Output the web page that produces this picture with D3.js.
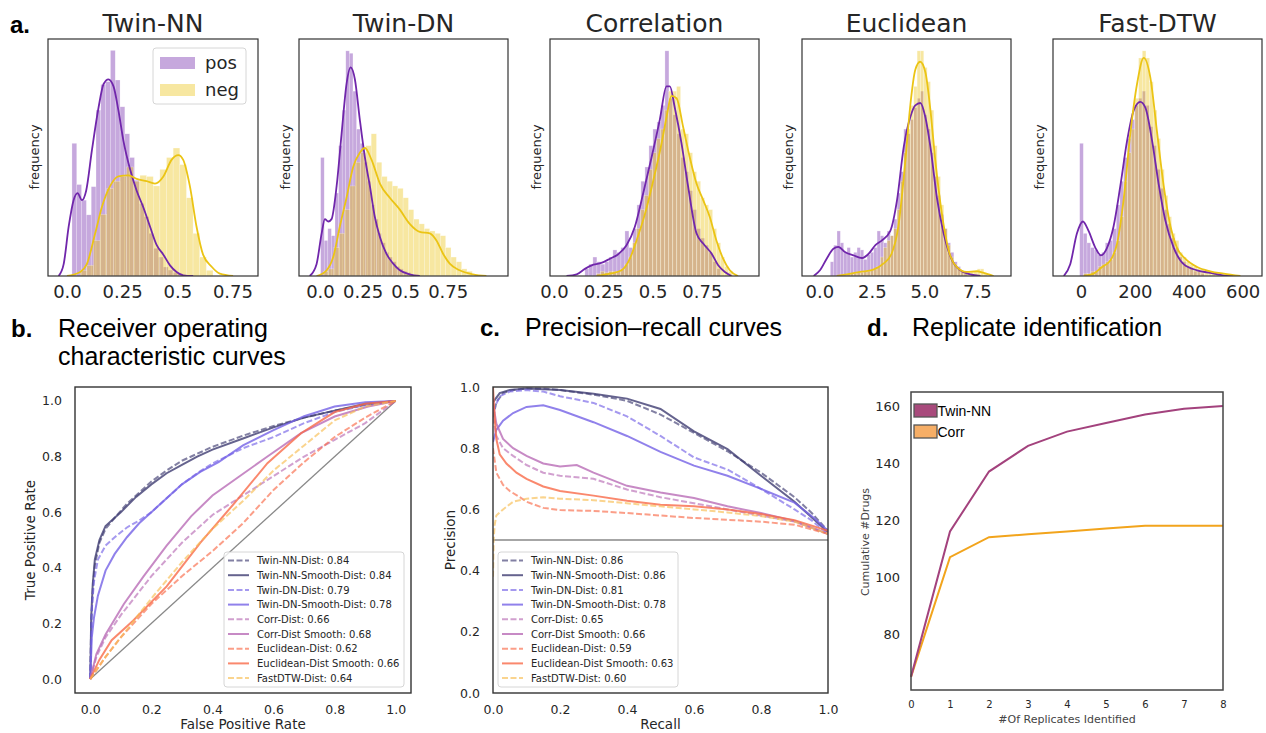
<!DOCTYPE html>
<html>
<head>
<meta charset="utf-8">
<script src="https://cdn.jsdelivr.net/npm/d3@7"></script>
<style>
body { margin: 0; background: #fff; }
text { font-family: "DejaVu Sans", sans-serif; fill: #262626; }
.sec { font-family: "Liberation Sans", Arial, sans-serif; fill: #000; }
</style>
</head>
<body>
<div id="fig"></div>
<script>
// ---- a. distance distributions (heights = relative frequency, % of axis) ----
const histTitles = ["Twin-NN", "Twin-DN", "Correlation", "Euclidean", "Fast-DTW"];
const histTicks = [[0, 0.25, 0.5, 0.75], [0, 0.25, 0.5, 0.75], [0, 0.25, 0.5, 0.75], [0, 2.5, 5, 7.5], [0, 200, 400, 600]];
const histTickLabels = [["0.0", "0.25", "0.5", "0.75"], ["0.0", "0.25", "0.5", "0.75"], ["0.0", "0.25", "0.5", "0.75"], ["0.0", "2.5", "5.0", "7.5"], ["0", "200", "400", "600"]];
// [pos first bin, pos bin width, neg first bin, neg bin width]
const histBins = [[0.0226, 0.0218, 0.06, 0.0301], [0.004, 0.0211, 0.0195, 0.03125], [0.157, 0.0203, 0.216, 0.0203], [0.524, 0.159, 1.317, 0.159], [-5, 13.6, 9.9, 13.6]];

const twinNNPosHist = [56, 38.6, 32, 25.8, 37.7, 70, 80.8, 82, 95.2, 82.7, 71.4, 60, 50, 40.4, 30.6, 25, 18, 11.7, 8, 3.8, 2.5, 1.5, 1];
const twinNNNegHist = [2.4, 4.5, 15, 26, 37, 40, 42, 46, 40, 42.5, 42, 38, 45, 50, 54, 47, 33, 18, 8, 2.4];
const twinDNPosHist = [50, 15, 20, 17, 35, 55, 70, 95, 94, 78, 62, 56, 48, 40, 30, 24, 18, 14, 10, 8, 6, 4, 3, 2, 1.5];
const twinDNNegHist = [2, 3, 12, 18, 28, 38, 48, 52, 55, 60, 48, 42, 40, 38, 37, 33, 28, 24, 22, 20, 19, 18, 17, 12, 8, 6, 3, 2];
const corrPosHist = [3, 5, 8, 6, 5, 6, 8, 11, 10, 12, 19, 12, 20, 30, 40, 46, 55, 62, 65, 72, 95, 75, 68, 60, 50, 44, 36, 28, 20, 16, 13, 10, 6, 3];
const corrNegHist = [1, 2, 1.5, 2, 2, 2, 3, 5, 8, 14, 20, 28, 34, 45, 52, 58, 62, 70, 78, 78, 80, 62, 60, 52, 44, 40, 33, 30, 28, 20, 14, 8, 4, 2];
const euclPosHist = [6, 13, 19, 14, 10, 12, 8, 10, 12, 11, 7, 9, 10, 12, 19, 17, 14, 19, 17, 24, 35, 44, 62, 60, 66, 71, 75, 78, 68, 62, 52, 42, 34, 26, 20, 14, 10, 6, 4, 2, 1];
const euclNegHist = [1, 1, 1, 1.5, 1.5, 2, 2, 2.5, 3, 4, 8, 12, 15, 17, 20, 28, 40, 52, 62, 72, 80, 95, 95, 88, 82, 70, 55, 42, 30, 20, 13, 8, 5, 3, 2, 2, 2, 2, 2, 3, 3, 1];
const dtwPosHist = [56, 18, 14, 12, 11, 9, 10, 14, 15, 20, 30, 40, 50, 58, 66, 72, 75, 78, 72, 63, 55, 45, 37, 28, 22, 16, 12, 8, 6, 4, 3, 2, 2, 1];
const dtwNegHist = [1, 1, 2, 2, 4, 5, 6, 7, 10, 15, 25, 40, 52, 62, 75, 92, 95, 92, 82, 70, 58, 45, 34, 25, 18, 15, 10, 8, 6, 5, 4, 3, 3, 2, 2, 1, 1];

const twinNNPosKde = [[-0.038, 0], [-0.015, 5], [0.008, 21], [0.03, 32], [0.048, 35], [0.068, 32], [0.087, 36], [0.113, 53], [0.143, 71], [0.166, 81], [0.188, 83], [0.211, 80], [0.233, 70], [0.256, 57], [0.286, 45], [0.316, 36], [0.346, 29], [0.376, 21], [0.407, 13], [0.437, 9], [0.467, 4.5], [0.497, 1.7], [0.527, 0.3], [0.572, 0]];
const twinNNNegKde = [[0, 0], [0.06, 1.7], [0.09, 5], [0.128, 18], [0.158, 29], [0.196, 38], [0.233, 42], [0.279, 42.5], [0.316, 41], [0.361, 40], [0.399, 39], [0.437, 42], [0.474, 49], [0.505, 51], [0.527, 49], [0.557, 38], [0.587, 21], [0.617, 9], [0.655, 4], [0.693, 1], [0.753, 0]];
const twinDNPosKde = [[-0.06, 0], [-0.02, 5], [0.01, 18], [0.029, 24], [0.049, 23], [0.068, 24], [0.098, 38], [0.127, 60], [0.156, 81], [0.18, 88], [0.205, 83], [0.234, 66], [0.264, 50], [0.293, 38], [0.322, 25], [0.352, 16.5], [0.39, 9.4], [0.43, 5.2], [0.469, 2.4], [0.527, 0.7], [0.586, 0]];
const twinDNNegKde = [[-0.02, 0], [0.039, 2.4], [0.078, 8], [0.117, 21], [0.156, 33], [0.195, 46], [0.234, 52], [0.264, 54], [0.303, 49], [0.352, 39], [0.41, 33], [0.469, 28], [0.527, 22], [0.586, 18.6], [0.645, 18], [0.684, 15], [0.723, 9.4], [0.762, 5.2], [0.82, 2.4], [0.898, 0.7], [0.977, 0]];
const corrPosKde = [[0.064, 0], [0.115, 0.7], [0.157, 3], [0.2, 4.8], [0.24, 5.5], [0.284, 7.3], [0.326, 9.2], [0.368, 13], [0.41, 20.7], [0.453, 35], [0.495, 50], [0.537, 66], [0.571, 80], [0.588, 80], [0.613, 71], [0.647, 56], [0.68, 38], [0.723, 18], [0.757, 13.7], [0.8, 9.4], [0.833, 4.5], [0.867, 1.7], [0.9, 0]];
const corrNegKde = [[0.216, 0], [0.284, 1], [0.343, 2.4], [0.385, 7.3], [0.419, 15], [0.461, 26], [0.503, 40], [0.546, 56], [0.571, 67], [0.596, 76], [0.622, 75], [0.655, 63], [0.689, 50], [0.723, 39], [0.757, 32], [0.79, 25], [0.824, 15], [0.858, 7.3], [0.892, 2.4], [0.934, 0]];
const euclPosKde = [[-0.27, 0], [0.03, 2.4], [0.35, 7.3], [0.67, 11.5], [0.9, 12.3], [1.24, 10], [1.63, 8.7], [2.03, 7.6], [2.35, 9.4], [2.67, 13], [2.98, 15], [3.38, 19], [3.7, 32], [4.02, 54.5], [4.33, 67], [4.57, 72], [4.81, 73], [5.05, 67], [5.29, 54.5], [5.6, 33], [5.92, 18], [6.32, 6.6], [6.71, 2.4], [7.19, 0.7], [7.67, 0]];
const euclNegKde = [[0.83, 0], [1.3, 0.7], [1.94, 1.7], [2.57, 2.7], [3.05, 5.2], [3.44, 9.4], [3.76, 20.7], [4.1, 49], [4.32, 71], [4.57, 87], [4.8, 90.4], [5.05, 86], [5.29, 70], [5.52, 49], [5.84, 26], [6.16, 10.8], [6.54, 3.8], [7.0, 1.7], [7.5, 2], [7.83, 1.3], [8.3, 0]];
const dtwPosKde = [[-64, 0], [-40, 5], [-15, 18], [7, 23], [28, 19], [53, 12], [74, 8.7], [97, 12], [121, 21], [146, 38], [171, 57], [196, 70], [220, 73.5], [239, 71], [264, 57], [288, 39], [313, 23.5], [344, 12], [381, 5], [431, 2.4], [480, 1.3], [530, 0.3], [579, 0]];
const dtwNegKde = [[10, 0], [47, 1], [78, 3.8], [109, 6.6], [134, 13.7], [158, 32], [183, 60], [208, 81], [233, 92], [257, 84], [282, 61], [307, 38], [332, 21], [356, 12], [387, 7.3], [431, 3.8], [480, 2], [530, 1], [592, 0]];

// ---- b. ROC curves [fpr, tpr] ----
const rocTwinNNDist = [[0, 0], [0.003, 0.2], [0.008, 0.32], [0.015, 0.41], [0.03, 0.49], [0.05, 0.54], [0.08, 0.58], [0.12, 0.63], [0.16, 0.67], [0.2, 0.71], [0.25, 0.75], [0.3, 0.785], [0.35, 0.81], [0.4, 0.835], [0.5, 0.875], [0.6, 0.91], [0.7, 0.94], [0.8, 0.965], [0.9, 0.985], [1, 1]];
const rocTwinNNSmooth = [[0, 0], [0.003, 0.22], [0.008, 0.34], [0.015, 0.43], [0.03, 0.5], [0.05, 0.55], [0.08, 0.58], [0.1, 0.6], [0.15, 0.655], [0.2, 0.7], [0.25, 0.74], [0.3, 0.77], [0.35, 0.8], [0.4, 0.825], [0.5, 0.865], [0.6, 0.905], [0.7, 0.94], [0.8, 0.965], [0.9, 0.99], [1, 1]];
const rocTwinDNDist = [[0, 0], [0.005, 0.25], [0.012, 0.35], [0.025, 0.43], [0.05, 0.48], [0.08, 0.51], [0.12, 0.545], [0.16, 0.57], [0.2, 0.6], [0.25, 0.65], [0.3, 0.7], [0.35, 0.74], [0.4, 0.775], [0.5, 0.83], [0.6, 0.87], [0.7, 0.92], [0.8, 0.96], [0.9, 0.985], [1, 1]];
const rocTwinDNSmooth = [[0, 0], [0.005, 0.15], [0.012, 0.22], [0.025, 0.3], [0.05, 0.39], [0.08, 0.45], [0.12, 0.51], [0.16, 0.56], [0.2, 0.6], [0.25, 0.65], [0.3, 0.7], [0.36, 0.745], [0.42, 0.78], [0.5, 0.84], [0.6, 0.895], [0.7, 0.945], [0.8, 0.98], [0.9, 0.995], [1, 1]];
const rocCorrDist = [[0, 0], [0.02, 0.08], [0.05, 0.15], [0.1, 0.23], [0.15, 0.3], [0.2, 0.37], [0.25, 0.43], [0.3, 0.49], [0.35, 0.54], [0.4, 0.59], [0.5, 0.66], [0.6, 0.73], [0.7, 0.8], [0.8, 0.86], [0.9, 0.92], [0.95, 0.96], [1, 1]];
const rocCorrSmooth = [[0, 0], [0.02, 0.09], [0.05, 0.16], [0.11, 0.27], [0.175, 0.37], [0.25, 0.48], [0.33, 0.585], [0.4, 0.66], [0.49, 0.73], [0.58, 0.8], [0.69, 0.884], [0.8, 0.944], [0.91, 0.98], [1, 1]];
const rocEuclDist = [[0, 0], [0.05, 0.08], [0.1, 0.15], [0.2, 0.27], [0.3, 0.37], [0.4, 0.46], [0.5, 0.56], [0.6, 0.68], [0.7, 0.78], [0.8, 0.87], [0.9, 0.94], [1, 1]];
const rocEuclSmooth = [[0, 0], [0.03, 0.07], [0.07, 0.14], [0.14, 0.21], [0.25, 0.333], [0.36, 0.49], [0.47, 0.63], [0.58, 0.776], [0.69, 0.884], [0.8, 0.96], [0.9, 0.99], [1, 1]];
const rocDtwDist = [[0, 0], [0.05, 0.08], [0.1, 0.15], [0.2, 0.29], [0.3, 0.42], [0.4, 0.54], [0.5, 0.64], [0.6, 0.75], [0.7, 0.84], [0.8, 0.93], [0.9, 0.98], [1, 1]];
const rocLabels = ["Twin-NN-Dist: 0.84", "Twin-NN-Smooth-Dist: 0.84", "Twin-DN-Dist: 0.79", "Twin-DN-Smooth-Dist: 0.78", "Corr-Dist: 0.66", "Corr-Dist Smooth: 0.68", "Euclidean-Dist: 0.62", "Euclidean-Dist Smooth: 0.66", "FastDTW-Dist: 0.64"];

// ---- c. precision-recall curves [recall, precision] ----
const prTwinNNDist = [[0, 0.9], [0.01, 0.95], [0.03, 0.98], [0.06, 0.99], [0.1, 0.995], [0.15, 0.995], [0.2, 0.99], [0.3, 0.975], [0.4, 0.955], [0.5, 0.91], [0.55, 0.88], [0.6, 0.85], [0.7, 0.79], [0.8, 0.72], [0.9, 0.64], [0.95, 0.59], [1, 0.53]];
const prTwinNNSmooth = [[0, 0.95], [0.02, 0.98], [0.05, 0.99], [0.1, 0.995], [0.2, 0.99], [0.3, 0.978], [0.4, 0.962], [0.5, 0.928], [0.6, 0.855], [0.7, 0.797], [0.8, 0.71], [0.9, 0.625], [0.96, 0.565], [1, 0.525]];
const prTwinDNDist = [[0, 0.92], [0.02, 0.97], [0.05, 0.985], [0.1, 0.99], [0.15, 0.985], [0.2, 0.97], [0.3, 0.948], [0.4, 0.904], [0.5, 0.84], [0.6, 0.77], [0.7, 0.73], [0.8, 0.667], [0.9, 0.6], [0.95, 0.565], [1, 0.52]];
const prTwinDNSmooth = [[0, 0.82], [0.01, 0.86], [0.03, 0.89], [0.06, 0.915], [0.1, 0.935], [0.15, 0.94], [0.2, 0.925], [0.3, 0.885], [0.4, 0.84], [0.5, 0.788], [0.6, 0.743], [0.7, 0.71], [0.8, 0.667], [0.9, 0.622], [0.96, 0.57], [1, 0.53]];
const prCorrDist = [[0, 0.9], [0.01, 0.84], [0.03, 0.8], [0.06, 0.775], [0.1, 0.745], [0.15, 0.72], [0.2, 0.71], [0.25, 0.705], [0.3, 0.7], [0.4, 0.665], [0.5, 0.64], [0.6, 0.62], [0.7, 0.6], [0.8, 0.58], [0.9, 0.56], [1, 0.52]];
const prCorrSmooth = [[0, 0.95], [0.01, 0.88], [0.03, 0.83], [0.06, 0.8], [0.1, 0.775], [0.15, 0.75], [0.2, 0.74], [0.25, 0.745], [0.3, 0.72], [0.4, 0.677], [0.5, 0.655], [0.6, 0.637], [0.7, 0.61], [0.8, 0.588], [0.9, 0.562], [1, 0.52]];
const prEuclDist = [[0, 0.8], [0.01, 0.72], [0.03, 0.68], [0.05, 0.66], [0.08, 0.64], [0.1, 0.625], [0.15, 0.605], [0.2, 0.598], [0.3, 0.595], [0.4, 0.588], [0.5, 0.58], [0.6, 0.572], [0.7, 0.566], [0.8, 0.56], [0.9, 0.55], [1, 0.52]];
const prEuclSmooth = [[0, 1.0], [0.005, 0.9], [0.01, 0.83], [0.02, 0.78], [0.04, 0.75], [0.07, 0.72], [0.1, 0.7], [0.15, 0.675], [0.2, 0.66], [0.3, 0.645], [0.4, 0.628], [0.5, 0.615], [0.6, 0.61], [0.7, 0.6], [0.8, 0.585], [0.9, 0.565], [1, 0.53]];
const prDtwDist = [[0, 0.38], [0.002, 0.5], [0.005, 0.55], [0.01, 0.58], [0.03, 0.6], [0.06, 0.625], [0.1, 0.635], [0.15, 0.64], [0.2, 0.635], [0.3, 0.63], [0.4, 0.62], [0.5, 0.61], [0.6, 0.6], [0.7, 0.59], [0.8, 0.578], [0.9, 0.56], [1, 0.52]];
const prLabels = ["Twin-NN-Dist: 0.86", "Twin-NN-Smooth-Dist: 0.86", "Twin-DN-Dist: 0.81", "Twin-DN-Smooth-Dist: 0.78", "Corr-Dist: 0.65", "Corr-Dist Smooth: 0.66", "Euclidean-Dist: 0.59", "Euclidean-Dist Smooth: 0.63", "FastDTW-Dist: 0.60"];

// ---- d. replicate identification ----
const replicates = [0, 1, 2, 3, 4, 5, 6, 7, 8];
const twinNNDrugs = [65, 116, 137, 146, 151, 154, 157, 159, 160];
const corrDrugs = [65, 107, 114, 115, 116, 117, 118, 118, 118];

// styles
const posColor = "#7026ab", negColor = "#ebc414";
const methodColors = ["#3f3c72", "#3f3c72", "#7462e6", "#7462e6", "#b96db6", "#b96db6", "#f96a48", "#f96a48", "#f8bd52"];
const methodDashed = [true, false, true, false, true, false, true, false, true];

var svg = d3.select("#fig").append("svg")
  .attr("width", 1266)
  .attr("height", 733);
svg.append("rect").attr("width", 1266).attr("height", 733).attr("fill", "#fff");

var histPos = [twinNNPosHist, twinDNPosHist, corrPosHist, euclPosHist, dtwPosHist];
var histNeg = [twinNNNegHist, twinDNNegHist, corrNegHist, euclNegHist, dtwNegHist];
var kdePos = [twinNNPosKde, twinDNPosKde, corrPosKde, euclPosKde, dtwPosKde];
var kdeNeg = [twinNNNegKde, twinDNNegKde, corrNegKde, euclNegKde, dtwNegKde];
// frame left, right, x-domain lo, hi
var histFrames = [[48, 258, -0.086, 0.866], [299, 508, -0.123, 1.104], [550, 759, -0.02, 1.04], [802, 1011, -0.825, 9.127], [1053, 1262, -104, 672]];
var hTop = 39, hBot = 276;

function bars(g, h, start, w, x, y, color) {
  g.selectAll(null)
    .data(h)
    .enter()
    .append("rect")
    .attr("x", (d, j) => x(start + j * w))
    .attr("width", (d, j) => x(start + (j + 1) * w) - x(start + j * w))
    .attr("y", d => y(d))
    .attr("height", d => y(0) - y(d))
    .attr("fill", color)
    .attr("fill-opacity", 0.4)
    .attr("stroke", "#fff")
    .attr("stroke-width", 0.5)
    .attr("stroke-opacity", 0.5);
}

histTitles.forEach(function(title, i) {
  var f = histFrames[i];
  var x = d3.scaleLinear().domain([f[2], f[3]]).range([f[0], f[1]]);
  var y = d3.scaleLinear().domain([0, 100]).range([hBot, hTop]);
  var g = svg.append("g");
  g.append("clipPath").attr("id", "hc" + i)
    .append("rect").attr("x", f[0]).attr("y", hTop).attr("width", f[1] - f[0]).attr("height", hBot - hTop);
  var inner = g.append("g").attr("clip-path", "url(#hc" + i + ")");
  var b = histBins[i];
  bars(inner, histPos[i], b[0], b[1], x, y, posColor);
  bars(inner, histNeg[i], b[2], b[3], x, y, negColor);
  var line = d3.line().x(d => x(d[0])).y(d => y(d[1])).curve(d3.curveMonotoneX);
  inner.append("path").datum(kdePos[i]).attr("d", line)
    .attr("fill", "none").attr("stroke", posColor).attr("stroke-width", 1.8);
  inner.append("path").datum(kdeNeg[i]).attr("d", line)
    .attr("fill", "none").attr("stroke", negColor).attr("stroke-width", 1.8);
  g.append("rect").attr("x", f[0]).attr("y", hTop).attr("width", f[1] - f[0]).attr("height", hBot - hTop)
    .attr("fill", "none").attr("stroke", "#333").attr("stroke-width", 1.2);

  var ax = g.append("g").attr("transform", "translate(0," + hBot + ")")
    .call(d3.axisBottom(x).tickValues(histTicks[i]).tickFormat((d, k) => histTickLabels[i][k]).tickSize(0).tickPadding(9));
  ax.select(".domain").remove();
  ax.selectAll("text").attr("font-size", 18).attr("font-family", "DejaVu Sans").style("fill", "#262626");

  g.append("text").attr("x", (f[0] + f[1]) / 2).attr("y", 32)
    .attr("text-anchor", "middle").attr("font-size", 25).text(title);
  g.append("text").attr("transform", "translate(" + (f[0] - 9) + ",157) rotate(-90)")
    .attr("text-anchor", "middle").attr("font-size", 13).text("frequency");
});

// legend in first histogram
var lg = svg.append("g");
lg.append("rect").attr("x", 153).attr("y", 48).attr("width", 93).attr("height", 56).attr("rx", 3)
  .attr("fill", "#fff").attr("fill-opacity", 0.8).attr("stroke", "#ccc").attr("stroke-width", 0.8);
[["pos", posColor], ["neg", negColor]].forEach(function(e, k) {
  lg.append("rect").attr("x", 160).attr("y", 57 + k * 27).attr("width", 35).attr("height", 12)
    .attr("fill", e[1]).attr("fill-opacity", 0.4);
  lg.append("text").attr("x", 205).attr("y", 69 + k * 27).attr("font-size", 18).text(e[0]);
});

// ---- section labels ----
function secLabel(letter, lx, tx, y, lines) {
  svg.append("text").attr("class", "sec").attr("x", lx).attr("y", y)
    .attr("font-size", 24).attr("font-weight", "bold").text(letter);
  lines.forEach(function(t, k) {
    svg.append("text").attr("class", "sec").attr("x", tx).attr("y", y + k * 28)
      .attr("font-size", 25).text(t);
  });
}
svg.append("text").attr("class", "sec").attr("x", 10).attr("y", 33)
  .attr("font-size", 24).attr("font-weight", "bold").text("a.");
secLabel("b.", 11, 58, 337, ["Receiver operating", "characteristic curves"]);
secLabel("c.", 480, 525, 336, ["Precision\u2013recall curves"]);
secLabel("d.", 867, 912, 336, ["Replicate identification"]);

// ---- curve panels (ROC / PR) ----
function curvePanel(opt) {
  var x = d3.scaleLinear().domain(opt.xdom).range([opt.x0, opt.x1]);
  var y = d3.scaleLinear().domain(opt.ydom).range([opt.y1, opt.y0]);
  var g = svg.append("g");
  g.append("clipPath").attr("id", opt.id)
    .append("rect").attr("x", opt.x0).attr("y", opt.y0).attr("width", opt.x1 - opt.x0).attr("height", opt.y1 - opt.y0);
  var inner = g.append("g").attr("clip-path", "url(#" + opt.id + ")");
  inner.append("path").datum(opt.ref).attr("d", d3.line().x(d => x(d[0])).y(d => y(d[1])))
    .attr("stroke", "#888").attr("stroke-width", 1.3).attr("fill", "none");
  var line = d3.line().x(d => x(d[0])).y(d => y(d[1]));
  opt.series.forEach(function(s, k) {
    inner.append("path").datum(s).attr("d", line)
      .attr("fill", "none")
      .attr("stroke", methodColors[k])
      .attr("stroke-opacity", methodDashed[k] ? 0.65 : 0.8)
      .attr("stroke-width", 2)
      .attr("stroke-dasharray", methodDashed[k] ? "6,2.5" : null);
  });
  g.append("rect").attr("x", opt.x0).attr("y", opt.y0).attr("width", opt.x1 - opt.x0).attr("height", opt.y1 - opt.y0)
    .attr("fill", "none").attr("stroke", "#333").attr("stroke-width", 1.4);

  var ticks = [0, 0.2, 0.4, 0.6, 0.8, 1.0];
  var ax = g.append("g").attr("transform", "translate(0," + opt.y1 + ")")
    .call(d3.axisBottom(x).tickValues(ticks).tickFormat(d3.format(".1f")).tickSize(0).tickPadding(12));
  var ay = g.append("g").attr("transform", "translate(" + opt.x0 + ",0)")
    .call(d3.axisLeft(y).tickValues(ticks).tickFormat(d3.format(".1f")).tickSize(0).tickPadding(opt.ypad));
  [ax, ay].forEach(function(a) {
    a.select(".domain").remove();
    a.selectAll("text").attr("font-size", 12.5).attr("font-family", "DejaVu Sans").style("fill", "#262626");
  });
  g.append("text").attr("x", (opt.x0 + opt.x1) / 2).attr("y", 729)
    .attr("text-anchor", "middle").attr("font-size", 13.5).text(opt.xlabel);
  g.append("text").attr("transform", "translate(" + opt.ylabelX + ",540) rotate(-90)")
    .attr("text-anchor", "middle").attr("font-size", 13.5).text(opt.ylabel);

  // legend
  var L = opt.legend;
  var lgd = g.append("g");
  lgd.append("rect").attr("x", L[0]).attr("y", 552).attr("width", 180).attr("height", 135).attr("rx", 3)
    .attr("fill", "#fff").attr("fill-opacity", 0.8).attr("stroke", "#ccc").attr("stroke-width", 0.8);
  opt.labels.forEach(function(t, k) {
    var yy = 560.5 + k * 14.7;
    lgd.append("line").attr("x1", L[0] + 4).attr("x2", L[0] + 25).attr("y1", yy).attr("y2", yy)
      .attr("stroke", methodColors[k])
      .attr("stroke-opacity", methodDashed[k] ? 0.65 : 0.8)
      .attr("stroke-width", 2)
      .attr("stroke-dasharray", methodDashed[k] ? "6,2.5" : null);
    lgd.append("text").attr("x", L[0] + 33).attr("y", yy + 3.6).attr("font-size", 10).text(t);
  });
}

curvePanel({
  id: "roc", x0: 75, x1: 411, y0: 387, y1: 693, xdom: [-0.05, 1.05], ydom: [-0.05, 1.05], ypad: 13,
  ref: [[0, 0], [1, 1]],
  series: [rocTwinNNDist, rocTwinNNSmooth, rocTwinDNDist, rocTwinDNSmooth, rocCorrDist, rocCorrSmooth, rocEuclDist, rocEuclSmooth, rocDtwDist],
  labels: rocLabels, legend: [224],
  xlabel: "False Positive Rate", ylabel: "True Positive Rate", ylabelX: 35
});
curvePanel({
  id: "pr", x0: 493, x1: 828, y0: 387, y1: 693, xdom: [0, 1], ydom: [0, 1], ypad: 13,
  ref: [[0, 0.5], [1, 0.5]],
  series: [prTwinNNDist, prTwinNNSmooth, prTwinDNDist, prTwinDNSmooth, prCorrDist, prCorrSmooth, prEuclDist, prEuclSmooth, prDtwDist],
  labels: prLabels, legend: [498],
  xlabel: "Recall", ylabel: "Precision", ylabelX: 455
});

// ---- d. replicate panel ----
(function() {
  var x0 = 911, x1 = 1223, y0 = 392, y1 = 690;
  var x = d3.scaleLinear().domain([0, 8]).range([x0, x1]);
  var y = d3.scaleLinear().domain([60.4, 164.9]).range([y1, y0]);
  var g = svg.append("g");
  var line = d3.line().x((d, i) => x(replicates[i])).y(d => y(d));
  var twinCol = "#a3427d", corrCol = "#f2a41c";
  g.append("path").datum(corrDrugs).attr("d", line).attr("fill", "none").attr("stroke", corrCol).attr("stroke-width", 2);
  g.append("path").datum(twinNNDrugs).attr("d", line).attr("fill", "none").attr("stroke", twinCol).attr("stroke-width", 2);
  g.append("rect").attr("x", x0).attr("y", y0).attr("width", x1 - x0).attr("height", y1 - y0)
    .attr("fill", "none").attr("stroke", "#444").attr("stroke-width", 1.5);
  var ax = g.append("g").attr("transform", "translate(0," + y1 + ")")
    .call(d3.axisBottom(x).tickValues(replicates).tickFormat(d3.format("d")).tickSize(0).tickPadding(11));
  ax.selectAll("text").attr("font-size", 10);
  var ay = g.append("g").attr("transform", "translate(" + x0 + ",0)")
    .call(d3.axisLeft(y).tickValues([80, 100, 120, 140, 160]).tickFormat(d3.format("d")).tickSize(0).tickPadding(11));
  ay.selectAll("text").attr("font-size", 13);
  [ax, ay].forEach(function(a) {
    a.select(".domain").remove();
    a.selectAll("text").attr("font-family", "DejaVu Sans").style("fill", "#262626");
  });
  g.append("text").attr("x", (x0 + x1) / 2).attr("y", 723)
    .attr("text-anchor", "middle").attr("font-size", 11).style("fill", "#444").text("#Of Replicates Identified");
  g.append("text").attr("transform", "translate(869,542) rotate(-90)")
    .attr("text-anchor", "middle").attr("font-size", 11).style("fill", "#444").text("Cumulative #Drugs");
  [["Twin-NN", "#a84a7c"], ["Corr", "#f6ae66"]].forEach(function(e, k) {
    g.append("rect").attr("x", 914).attr("y", 404 + k * 21).attr("width", 23).attr("height", 13)
      .attr("fill", e[1]).attr("stroke", "#555").attr("stroke-width", 1.3);
    g.append("text").attr("class", "sec").attr("x", 937.5).attr("y", 416 + k * 21)
      .attr("font-size", 14).text(e[0]);
  });
})();
</script>
</body>
</html>
